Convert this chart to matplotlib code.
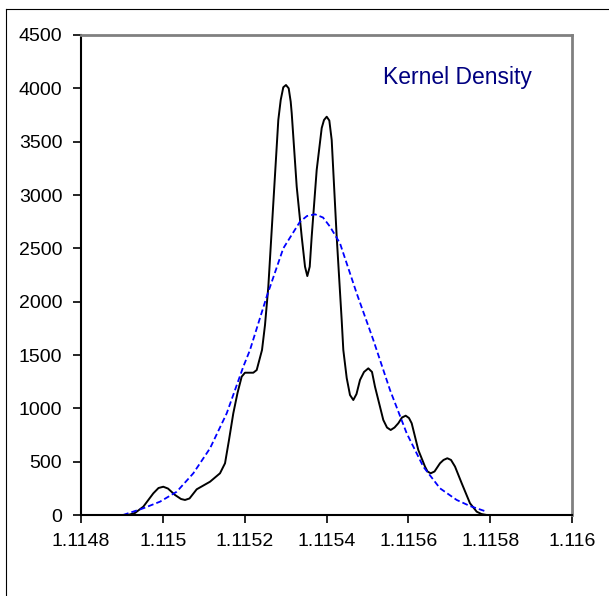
import numpy as np
import matplotlib
matplotlib.use("Agg")
import matplotlib.pyplot as plt
from matplotlib.lines import Line2D

# ─────────────────────────────────────────────────────────────────────────────
# Data
# ─────────────────────────────────────────────────────────────────────────────

# black curve: kernel density estimate
kde_x = [1.1149149, 1.1149320, 1.1149523, 1.1149767, 1.1149894, 1.1150011,
         1.1150126, 1.1150297, 1.1150444, 1.1150542, 1.1150652, 1.1150828,
         1.1151153, 1.1151397, 1.1151520, 1.1151617, 1.1151722, 1.1151825,
         1.1151927, 1.1152008, 1.1152211, 1.1152294, 1.1152424, 1.1152497,
         1.1152578, 1.1152700, 1.1152822, 1.1152881, 1.1152944, 1.1153010,
         1.1153076, 1.1153125, 1.1153150, 1.1153272, 1.1153394, 1.1153475,
         1.1153531, 1.1153590, 1.1153638, 1.1153760, 1.1153883, 1.1153939,
         1.1154005, 1.1154069, 1.1154127, 1.1154249, 1.1154371, 1.1154411,
         1.1154494, 1.1154574, 1.1154655, 1.1154733, 1.1154819, 1.1154917,
         1.1155022, 1.1155112, 1.1155185, 1.1155388, 1.1155479, 1.1155569,
         1.1155662, 1.1155755, 1.1155845, 1.1155936, 1.1156016, 1.1156082,
         1.1156244, 1.1156407, 1.1156469, 1.1156547, 1.1156640, 1.1156774,
         1.1156860, 1.1156953, 1.1157043, 1.1157141, 1.1157305, 1.1157507,
         1.1157671, 1.1157788, 1.1157915]
kde_y = [0, 19, 78, 203, 253, 265,
         248, 188, 150, 141, 155, 241,
         312, 391, 485, 703, 953, 1144,
         1297, 1334, 1334, 1359, 1547, 1781,
         2140, 2922, 3703, 3891, 4010, 4031,
         4000, 3875, 3766, 3078, 2609, 2328,
         2240, 2328, 2609, 3234, 3628, 3703,
         3734, 3698, 3516, 2609, 1828, 1547,
         1284, 1125, 1078, 1134, 1266, 1341,
         1375, 1341, 1203, 891, 820, 797,
         820, 860, 914, 931, 909, 860,
         609, 454, 408, 391, 408, 485,
         516, 532, 516, 454, 297, 110,
         31, 9, 0]

# blue dashed curve: normal reference
norm_x = [1.1149026, 1.1149523, 1.1149931, 1.1150339, 1.1150745, 1.1151153,
          1.1151561, 1.1151967, 1.1152130, 1.1152538, 1.1152944, 1.1153352,
          1.1153523, 1.1153719, 1.1153915, 1.1154086, 1.1154330, 1.1154738,
          1.1155144, 1.1155552, 1.1155960, 1.1156366, 1.1156774, 1.1157182,
          1.1157507, 1.1157915]
norm_y = [0, 63, 125, 218, 391, 625,
          953, 1391, 1547, 2047, 2500, 2750,
          2803, 2819, 2789, 2703, 2547, 2078,
          1641, 1172, 766, 453, 250, 141,
          84, 31]

x_ticks = [1.1148, 1.1150, 1.1152, 1.1154, 1.1156, 1.1158, 1.1160]
x_tick_labels = ["1.1148", "1.115", "1.1152", "1.1154", "1.1156", "1.1158", "1.116"]
y_ticks = [0, 500, 1000, 1500, 2000, 2500, 3000, 3500, 4000, 4500]

# ─────────────────────────────────────────────────────────────────────────────
# Figure
# ─────────────────────────────────────────────────────────────────────────────

plt.rcParams["font.family"] = ["Liberation Sans", "DejaVu Sans"]

W, H = 609, 596
fig = plt.figure(figsize=(W / 100, H / 100), dpi=100)
ax = fig.add_axes([81 / W, 1 - 515 / H, (572 - 81) / W, (515 - 35) / H])

ax.plot(kde_x, kde_y, color="black", linewidth=1.4,
        solid_joinstyle="round", solid_capstyle="round")
ax.plot(norm_x, norm_y, color="#0000FF", linewidth=1.3, linestyle=(0, (3.2, 1.7)))

ax.set_xlim(1.1148, 1.1160)
ax.set_ylim(0, 4500)
ax.set_xticks(x_ticks)
ax.set_xticklabels(x_tick_labels)
ax.set_yticks(y_ticks)
ax.tick_params(axis="both", direction="out", length=6, width=1.2,
               labelsize=14, colors="black")
ax.tick_params(axis="x", pad=7)
ax.tick_params(axis="y", pad=7.5)

for side in ["left", "bottom"]:
    ax.spines[side].set_color("black")
    ax.spines[side].set_linewidth(1.5)
for side in ["top", "right"]:
    ax.spines[side].set_color("#808080")
    ax.spines[side].set_linewidth(2.0)

ax.text(0.615, 0.898, "Kernel Density", transform=ax.transAxes,
        ha="left", va="baseline", fontsize=16.5, color="#000080")

# thin outer frame (top and left edges only)
fx, fy = 5.5 / W, 1 - 8.5 / H
fig.add_artist(Line2D([fx, fx], [0, fy], transform=fig.transFigure,
                      color="black", linewidth=0.8))
fig.add_artist(Line2D([fx, 1], [fy, fy], transform=fig.transFigure,
                      color="black", linewidth=0.8))

fig.savefig("out.png", dpi=100)
